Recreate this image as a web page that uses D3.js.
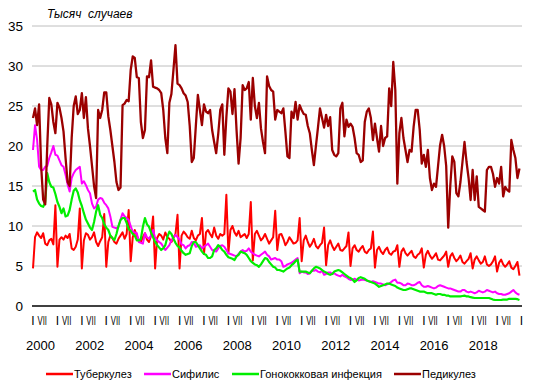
<!DOCTYPE html>
<html><head><meta charset="utf-8">
<script src="https://cdn.jsdelivr.net/npm/d3@7"></script>
<style>body{margin:0;background:#fff}svg{display:block}text{font-family:"Liberation Sans",Arial,sans-serif}</style>
</head><body><svg id="c" width="536" height="389"></svg>
<script>
const startYear = 2000;
const yTicks = [0,5,10,15,20,25,30,35];
const monthLabels = ["I","VII"];
const yearLabels = [2000,2002,2004,2006,2008,2010,2012,2014,2016,2018];
const seriesNames = ["Туберкулез","Сифилис","Гонококковая инфекция","Педикулез"];
const unitLabel = "Тысяч  случаев";

const tuberculosis = [
4.7,8.6,9.2,8.8,8.5,9.1,7.8,7.6,8.2,8.4,7.7,12.6,
4.9,8.3,8.6,8.3,8.8,8.5,9.0,7.2,7.0,7.4,8.3,12.2,
4.7,8.2,9.1,8.9,8.3,8.6,9.2,8.0,7.5,8.1,8.6,11.5,
4.9,8.0,8.8,8.5,8.0,7.8,8.4,8.8,9.2,8.4,9.0,12.0,
5.6,8.6,9.5,8.8,8.2,8.0,8.6,9.1,8.3,8.0,8.8,11.2,
4.7,8.5,9.0,8.8,8.3,9.2,8.6,8.4,8.0,8.5,9.0,11.4,
4.7,8.8,9.3,9.0,8.6,8.4,9.4,8.5,8.2,8.8,9.0,11.0,
6.5,9.2,9.5,9.0,8.6,9.8,8.8,8.4,9.0,8.8,9.0,13.9,
6.6,9.5,10.0,9.2,8.8,9.4,8.6,8.8,9.0,8.5,9.0,13.0,
5.7,9.0,9.4,8.8,8.2,8.5,9.0,8.4,7.8,8.2,8.6,11.9,
7.0,8.9,9.0,8.4,7.6,8.0,8.6,8.2,7.8,7.9,8.2,11.0,
5.6,8.2,8.8,8.0,7.4,7.8,8.4,7.5,7.2,7.6,7.9,9.8,
5.1,7.6,8.2,7.5,7.0,7.4,7.8,7.0,6.9,7.2,7.5,9.2,
5.0,7.2,7.6,7.0,6.8,7.2,7.5,6.8,6.6,7.0,7.2,9.3,
4.8,7.0,7.4,6.8,6.5,7.0,7.3,6.6,6.4,6.8,6.9,7.6,
4.9,6.8,7.2,6.6,6.3,6.6,6.9,6.2,6.0,6.4,6.6,7.2,
4.8,6.4,6.9,6.3,5.9,6.2,6.6,5.8,5.7,6.0,6.3,6.8,
4.9,6.2,6.6,6.0,5.6,5.9,6.3,5.5,5.3,5.6,5.9,6.6,
4.7,5.8,6.2,5.7,5.3,5.5,6.2,5.2,5.0,5.2,5.6,6.2,
4.3,5.4,5.8,5.2,4.9,5.2,5.6,4.8,4.6,5.0,5.5,3.8];

const syphilis = [
19.5,22.6,20.8,17.4,17.0,17.0,17.4,17.5,18.5,19.2,20.0,18.9,
18.8,18.2,17.6,17.4,16.4,15.2,14.3,16.0,16.6,17.0,17.2,17.4,
15.3,15.6,15.1,14.5,14.1,12.8,12.2,12.4,13.3,13.5,13.4,12.9,
12.6,12.2,11.2,9.9,9.8,9.7,9.9,10.8,11.6,11.2,11.0,10.75,
10.0,9.3,9.2,9.1,8.0,7.9,7.8,9.1,8.6,8.4,8.8,9.5,
8.5,8.2,8.0,7.8,7.4,7.0,7.3,7.6,8.2,8.6,8.9,8.6,
8.3,7.7,7.6,7.2,7.5,7.6,8.0,7.9,7.4,7.5,7.6,7.2,
7.4,7.6,7.8,7.4,7.0,6.9,6.8,7.2,7.5,7.6,7.4,7.0,
6.6,6.5,6.4,6.3,6.2,6.5,6.8,7.0,6.8,6.9,7.2,6.8,
6.6,6.4,6.3,6.2,6.4,6.6,6.8,6.4,6.2,5.8,5.9,6.0,
5.8,5.8,5.6,4.9,5.0,5.2,5.3,5.4,5.6,5.8,6.0,4.1,
4.3,4.2,4.2,4.0,4.1,4.4,4.4,4.5,4.3,4.2,4.4,3.9,
4.0,4.2,4.2,4.0,4.1,3.9,3.8,3.7,3.9,3.7,3.6,3.4,
3.25,3.3,3.4,3.3,3.2,3.25,3.3,3.25,3.2,3.1,3.0,3.1,
3.0,2.9,2.8,2.8,2.7,2.6,2.7,2.8,3.0,3.2,3.3,2.9,
2.9,2.8,2.6,2.6,2.8,2.75,2.6,2.6,2.7,2.9,3.0,2.6,
2.4,2.4,2.5,2.4,2.3,2.2,2.3,2.5,2.6,2.5,2.4,2.3,
2.2,2.2,2.1,2.0,1.9,1.8,1.8,2.0,2.0,1.8,1.7,1.8,
1.7,1.6,1.7,1.9,1.8,1.7,1.8,2.0,1.9,1.8,1.7,1.8,
1.6,1.5,1.5,1.4,1.4,1.5,1.6,1.8,2.0,1.7,1.5,1.4];

const gonococcal = [
14.3,14.5,13.3,12.8,12.5,12.4,13.0,16.6,15.5,14.9,14.8,14.0,
13.0,12.4,11.6,12.2,11.2,11.3,12.0,13.3,14.4,14.7,14.2,13.2,
12.5,11.6,10.8,10.3,9.8,9.5,10.5,11.8,12.6,11.4,11.0,10.2,
9.8,9.5,8.8,8.5,8.25,9.0,10.0,10.75,11.0,11.0,10.4,9.6,
9.4,9.0,8.8,8.2,8.2,8.4,9.9,11.0,10.2,9.9,9.2,8.6,
8.0,7.6,7.3,7.0,7.2,7.6,8.6,9.3,9.0,8.4,7.9,7.5,
7.3,6.9,6.6,6.4,6.5,6.6,7.5,8.0,8.0,7.6,7.2,6.8,
6.5,6.4,6.0,6.0,6.2,7.0,7.2,7.6,7.4,7.0,6.8,6.4,
6.1,6.0,5.9,5.75,6.2,6.4,6.8,6.7,6.6,6.4,6.0,5.6,
5.4,5.2,5.1,4.9,5.2,5.6,6.0,5.9,5.5,5.2,4.9,4.8,
4.5,4.5,4.4,4.3,4.5,4.7,4.8,5.1,5.3,5.6,5.8,4.3,
4.3,4.3,4.3,4.2,4.1,4.4,4.7,4.9,4.8,4.7,4.5,4.3,
4.2,4.0,3.9,4.0,4.3,4.4,4.5,4.4,4.2,4.0,3.8,3.6,
3.5,3.3,3.0,3.2,3.5,3.6,3.5,3.4,3.2,3.1,3.0,2.9,
2.8,2.6,2.4,2.5,2.6,2.7,2.8,2.8,2.7,2.6,2.5,2.3,
2.2,2.1,2.0,2.0,2.1,2.2,2.2,2.1,2.0,1.9,1.8,1.8,
1.8,1.7,1.6,1.6,1.6,1.5,1.4,1.5,1.5,1.4,1.4,1.3,
1.3,1.2,1.2,1.2,1.2,1.2,1.2,1.25,1.3,1.2,1.2,1.1,
1.05,1.0,1.0,1.0,1.0,1.0,1.0,1.0,1.0,0.9,0.8,0.75,
0.75,0.75,0.75,0.8,0.8,0.8,0.9,0.9,0.9,0.9,0.85,0.75];

const pediculosis = [
23.5,24.7,22.6,25.2,17.5,13.3,12.7,20.0,26.0,25.2,23.0,21.6,
25.4,24.8,23.5,21.8,18.5,15.5,15.0,21.0,25.0,26.2,24.0,24.5,
26.6,23.5,26.1,22.2,20.0,17.5,15.0,13.5,24.5,23.5,24.5,26.7,
26.7,23.7,22.0,20.0,18.0,15.5,14.5,14.8,25.1,25.3,25.75,25.6,
29.5,31.2,31.0,28.6,28.5,23.0,21.0,22.0,28.7,28.6,30.7,27.4,
27.3,27.2,27.0,26.6,24.5,21.0,19.1,25.4,26.5,29.5,32.6,27.8,
27.6,27.2,26.6,26.3,25.5,22.5,18.0,18.5,22.5,26.4,24.5,22.6,
25.2,24.3,24.1,24.5,22.0,20.5,19.1,21.5,24.5,25.2,18.9,23.6,
27.2,26.8,24.0,27.1,22.0,17.8,21.0,27.6,27.0,27.2,28.0,23.3,
28.5,25.0,23.5,25.4,22.2,20.5,19.1,28.7,27.5,27.0,26.8,23.3,
24.5,24.3,24.1,24.7,21.8,18.7,18.5,24.3,23.5,25.5,23.3,25.1,
24.5,24.0,23.9,22.5,21.6,19.5,17.6,20.0,22.3,24.7,23.5,22.3,
23.9,22.5,23.6,19.5,18.9,18.7,19.1,24.7,25.4,21.2,23.3,22.4,
22.8,22.4,21.0,19.1,18.9,18.0,18.2,23.0,24.3,24.7,23.5,20.75,
22.8,21.0,19.3,22.5,20.0,21.0,21.2,27.2,25.0,30.5,27.0,15.3,
21.6,23.5,21.0,19.5,18.0,19.5,19.3,22.4,24.5,24.5,22.0,17.8,
18.9,17.4,19.5,16.0,14.5,15.3,14.9,17.5,20.1,21.4,20.0,17.5,
9.8,15.0,18.7,18.0,14.1,13.7,15.5,18.0,20.5,18.0,16.0,13.25,
17.0,13.25,16.2,12.4,12.2,12.0,11.8,17.0,17.4,17.4,16.5,14.9,
16.0,15.3,17.4,13.7,14.9,14.5,14.3,20.75,19.5,18.5,16.0,17.2];

const seriesData = [tuberculosis, syphilis, gonococcal, pediculosis];
const colors = ["#FF0000","#FF00FF","#00EE00","#9B0000"];
const widths = [2,2,2.2,2.3];

const svg = d3.select("#c");
const nMonths = tuberculosis.length;
const x = d3.scaleLinear().domain([0, nMonths]).range([33, 521.5]);
const y = d3.scaleLinear().domain([0, 35]).range([306, 26]);
const yearX = d3.scaleLinear().domain([2000, 2018]).range([40.5, 483.3]);

// grid
svg.append("g").selectAll("line").data(yTicks.filter(d => d > 0)).join("line")
  .attr("x1", 32).attr("x2", 522).attr("y1", d => y(d)).attr("y2", d => y(d))
  .attr("stroke", "#BEBEBE").attr("stroke-width", 1);

// y labels
svg.append("g").selectAll("text").data(yTicks).join("text")
  .attr("x", 23).attr("y", d => y(d) + 5).attr("text-anchor", "end")
  .attr("font-size", 13.5).attr("fill", "#000").text(d => d);

// unit label
svg.append("text").attr("x", 47).attr("y", 18).attr("font-size", 12)
  .attr("font-style", "italic").attr("fill", "#000")
  .attr("style", "white-space:pre").text(unitLabel);

// lines
const line = d3.line().x((d, i) => x(i)).y(d => y(d));
seriesData.forEach((s, k) => {
  svg.append("path").datum(s).attr("d", line).attr("fill", "none")
    .attr("stroke", colors[k]).attr("stroke-width", widths[k])
    .attr("stroke-linejoin", "round");
});

// x axis line
svg.append("line").attr("x1", 32).attr("x2", 522).attr("y1", y(0)).attr("y2", y(0))
  .attr("stroke", "#000").attr("stroke-width", 1.5);

// month labels
const monthTicks = d3.range(0, nMonths + 1, 6);
svg.append("g").selectAll("text").data(monthTicks).join("text")
  .attr("x", d => x(d) + (d % 12 === 0 ? 0 : -3)).attr("y", 325)
  .attr("text-anchor", "middle").attr("font-size", 12).attr("fill", "#000")
  .each(function(d) {
    const lab = monthLabels[(d % 12) / 6];
    const t = d3.select(this).text(lab);
    if (lab === "VII") t.attr("textLength", 9.5).attr("lengthAdjust", "spacingAndGlyphs");
  });

// year labels
svg.append("g").selectAll("text").data(yearLabels).join("text")
  .attr("x", d => yearX(d)).attr("y", 350).attr("text-anchor", "middle")
  .attr("font-size", 13).attr("fill", "#000").text(d => d);

// legend
const legendX = [46, 144, 232, 394];
const lg = svg.append("g");
seriesNames.forEach((name, k) => {
  lg.append("line").attr("x1", legendX[k]).attr("x2", legendX[k] + 27)
    .attr("y1", 374).attr("y2", 374).attr("stroke", colors[k]).attr("stroke-width", 2.5);
  lg.append("text").attr("x", legendX[k] + 28).attr("y", 378).attr("font-size", 11)
    .attr("fill", "#000").text(name);
});
</script></body></html>
